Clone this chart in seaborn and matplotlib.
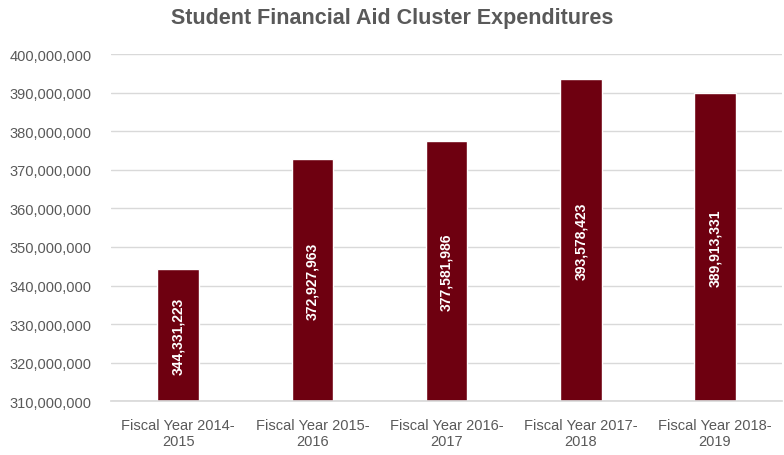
import matplotlib
matplotlib.use("Agg")
import matplotlib.pyplot as plt
import seaborn as sns
import pandas as pd
from matplotlib import font_manager
from matplotlib.ticker import FuncFormatter

categories = ["Fiscal Year 2014-\n2015", "Fiscal Year 2015-\n2016", "Fiscal Year 2016-\n2017",
              "Fiscal Year 2017-\n2018", "Fiscal Year 2018-\n2019"]
values = [344331223, 372927963, 377581986, 393578423, 389913331]

sns.set_theme(style="white")
names = {f.name for f in font_manager.fontManager.ttflist}
fam = "Liberation Sans Narrow" if "Liberation Sans Narrow" in names else "Liberation Sans"
plt.rcParams['font.family'] = [fam, 'DejaVu Sans']

df = pd.DataFrame({"cat": categories, "val": values})
fig = plt.figure(figsize=(7.84, 4.56), dpi=100)
ax = fig.add_axes([0.1416, 0.118, 0.856, 0.761])
sns.barplot(data=df, x="cat", y="val", color="#6E0010", saturation=1, width=0.31, ax=ax)
ax.set_ylim(310000000, 400000000)
ax.set_yticks(range(310000000, 400000001, 10000000))
ax.yaxis.set_major_formatter(FuncFormatter(lambda v, p: f"{int(v):,}"))
ax.grid(axis="y", color="#D9D9D9", linewidth=1)
ax.set_axisbelow(True)
for s in ["top", "right", "left"]:
    ax.spines[s].set_visible(False)
ax.spines["bottom"].set_color("#D9D9D9")
ax.tick_params(axis="both", colors="#595959", labelsize=10.5, length=0)
ax.tick_params(axis="y", pad=14)
ax.tick_params(axis="x", pad=12)
ax.set_xlabel("")
ax.set_ylabel("")
for i, v in enumerate(values):
    ax.text(i, (310000000 + v) / 2, f"{v:,}", rotation=90, ha="center", va="center",
            color="white", fontsize=10, fontweight="bold")
fig.text(0.5, 0.96, "Student Financial Aid Cluster Expenditures", ha="center", va="center",
         fontsize=15.5, fontweight="bold", color="#595959", family=["Liberation Sans", "DejaVu Sans"])
fig.savefig("out.png", dpi=100)
